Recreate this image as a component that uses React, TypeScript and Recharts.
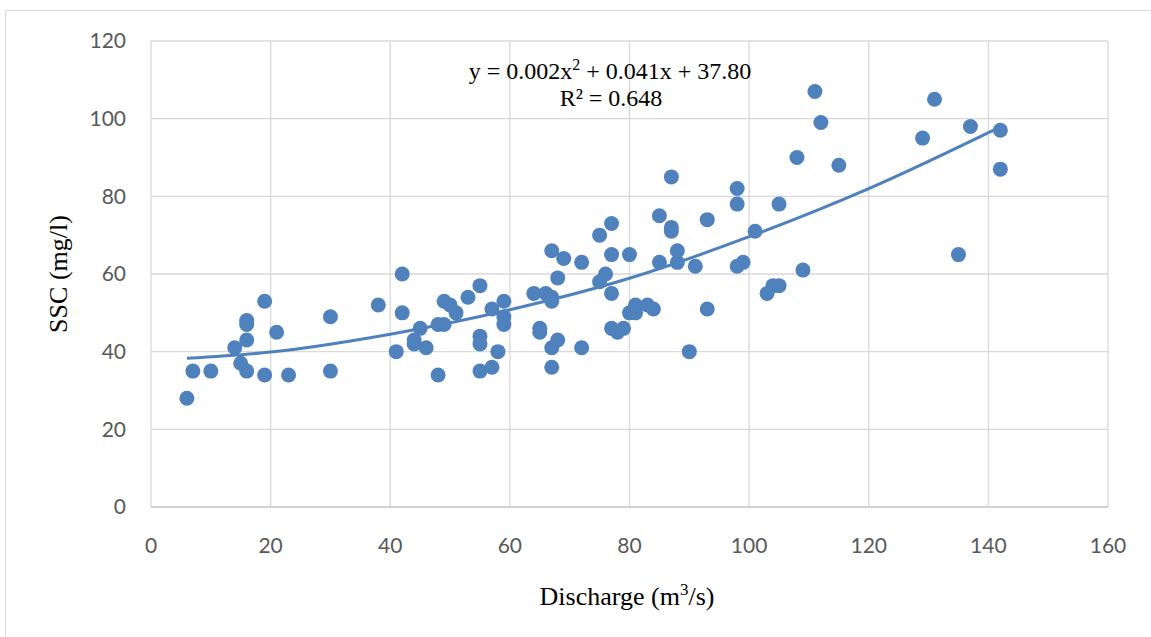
import React from 'react';
import { ComposedChart, Scatter, Line, XAxis, YAxis, CartesianGrid } from 'recharts';

// Discharge (m3/s) and SSC (mg/l)
const dischargeValues = [
  6, 7, 10, 14, 15, 16, 16, 16, 16, 19, 19, 21, 23, 30, 30, 38, 41, 42, 42, 44,
  44, 45, 46, 48, 48, 49, 49, 50, 51, 53, 55, 55, 55, 55, 57, 57, 58, 59, 59, 59,
  64, 65, 65, 66, 67, 67, 67, 67, 67, 68, 68, 69, 72, 72, 75, 75, 76, 77, 77, 77,
  77, 78, 79, 80, 80, 81, 81, 83, 84, 85, 85, 87, 87, 87, 88, 88, 90, 91, 93, 93,
  98, 98, 98, 99, 101, 103, 104, 105, 105, 108, 109, 111, 112, 115, 129, 131, 135, 137, 142, 142,
];
const sscValues = [
  28, 35, 35, 41, 37, 48, 47, 43, 35, 53, 34, 45, 34, 49, 35, 52, 40, 60, 50, 42,
  43, 46, 41, 47, 34, 53, 47, 52, 50, 54, 57, 44, 42, 35, 51, 36, 40, 53, 49, 47,
  55, 46, 45, 55, 54, 53, 66, 41, 36, 59, 43, 64, 63, 41, 70, 58, 60, 73, 65, 55,
  46, 45, 46, 65, 50, 50, 52, 52, 51, 75, 63, 85, 72, 71, 66, 63, 40, 62, 74, 51,
  82, 78, 62, 63, 71, 55, 57, 57, 78, 90, 61, 107, 99, 88, 95, 105, 65, 98, 97, 87,
];

// polynomial trendline
const trendX = [6, 20, 40, 60, 80, 100, 120, 142];
const trendY = [38.3, 39.9, 44.5, 50.8, 58.9, 69.6, 82.0, 97.9];

const xTicks = [0, 20, 40, 60, 80, 100, 120, 140, 160];
const yTicks = [0, 20, 40, 60, 80, 100, 120];

const points = dischargeValues.map((x, i) => ({ x, y: sscValues[i] }));
const trend = trendX.map((x, i) => ({ x, y: trendY[i] }));

const BLUE = '#4F81BD';
const tickStyle = { fill: '#595959', fontSize: 21, fontFamily: 'Lato, "Open Sans", sans-serif' };
const serif = '"Liberation Serif", "Times New Roman", serif';

const Dot = (props: any) => <circle cx={props.cx} cy={props.cy} r={7.5} fill={BLUE} />;

const App: React.FC = () => {
  return (
    <div style={{ position: 'absolute', left: 0, top: 0, width: 1151, height: 637, background: '#fff', overflow: 'hidden' }}>
      <div style={{ position: 'absolute', left: 5, top: 10, width: 1200, height: 700, border: '1.5px solid #d9d9d9' }} />
      <ComposedChart width={1151} height={637} margin={{ top: 41, right: 43, left: 0, bottom: 0 }}>
        <CartesianGrid stroke="#d9d9d9" strokeWidth={1.3} />
        <XAxis
          type="number"
          dataKey="x"
          domain={[0, 160]}
          ticks={xTicks}
          height={130}
          tickLine={false}
          tickMargin={25}
          stroke="#bfbfbf"
          tick={tickStyle}
          allowDataOverflow
          label={{
            content: () => (
              <text x={627} y={605} textAnchor="middle" fontFamily={serif} fontSize={26} fill="#000">
                Discharge (m<tspan dy={-10} fontSize={17}>3</tspan><tspan dy={10}>/s)</tspan>
              </text>
            ),
          }}
        />
        <YAxis
          type="number"
          dataKey="y"
          domain={[0, 120]}
          ticks={yTicks}
          width={151}
          axisLine={false}
          tickLine={false}
          tickMargin={19}
          tick={tickStyle}
          label={{
            content: () => (
              <text x={67} y={274} transform="rotate(-90 67 274)" textAnchor="middle" fontFamily={serif} fontSize={26} fill="#000">
                SSC (mg/l)
              </text>
            ),
          }}
        />
        <Scatter data={points} dataKey="y" fill={BLUE} shape={Dot} isAnimationActive={false} />
        <Line data={trend} dataKey="y" type="monotone" stroke={BLUE} strokeWidth={3} dot={false} activeDot={false} isAnimationActive={false} />
      </ComposedChart>
      <svg width={1151} height={637} style={{ position: 'absolute', left: 0, top: 0, pointerEvents: 'none' }}>
        <text x={610} y={79} textAnchor="middle" fontFamily={serif} fontSize={24} fill="#000">
          y = 0.002x<tspan dy={-9} fontSize={16}>2</tspan><tspan dy={9}> + 0.041x + 37.80</tspan>
        </text>
        <text x={611} y={106} textAnchor="middle" fontFamily={serif} fontSize={24} fill="#000">
          R² = 0.648
        </text>
      </svg>
    </div>
  );
};

export default App;
